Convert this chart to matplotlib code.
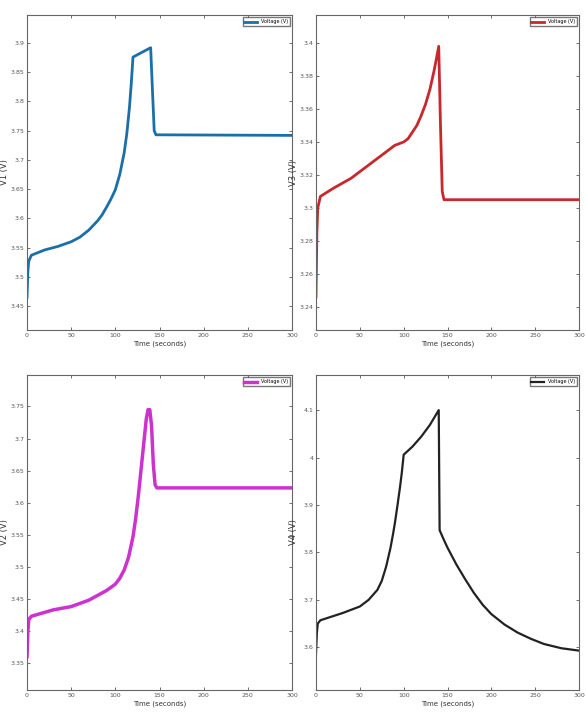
import numpy as np
import matplotlib.pyplot as plt

# V1
t1 = [0, 1, 2, 5, 20, 35, 50, 60, 70, 80, 85, 90, 95, 100, 105, 110, 113, 116, 118, 120, 140, 142, 144, 146, 300]
v1 = [3.465, 3.51, 3.527, 3.537, 3.546, 3.552, 3.560, 3.568, 3.580, 3.596, 3.606, 3.619, 3.633, 3.649, 3.675, 3.712,
      3.745, 3.79, 3.83, 3.876, 3.892, 3.82, 3.75, 3.743, 3.742]
# V3
t3 = [0, 1, 2, 5, 20, 40, 60, 80, 90, 100, 105, 110, 115, 120, 125, 130, 135, 140, 142, 144, 146, 300]
v3 = [3.246, 3.285, 3.300, 3.307, 3.312, 3.318, 3.326, 3.334, 3.338, 3.340, 3.342, 3.346, 3.350, 3.356, 3.363,
      3.372, 3.384, 3.398, 3.35, 3.31, 3.305, 3.305]
# V2
t2 = [0, 1, 2, 5, 30, 50, 70, 90, 100, 105, 110, 115, 120, 123, 126, 129, 132, 135, 137, 139, 141, 143, 145, 147, 300]
v2 = [3.36, 3.40, 3.418, 3.423, 3.433, 3.438, 3.448, 3.463, 3.473, 3.482, 3.495, 3.515, 3.547, 3.575, 3.61, 3.65,
      3.69, 3.73, 3.745, 3.745, 3.72, 3.66, 3.628, 3.623, 3.623]
# V4
t4 = [0, 1, 2, 5, 30, 50, 60, 70, 75, 80, 85, 88, 90, 93, 96, 98, 100, 110, 120, 130, 140, 141, 145, 150, 160,
      170, 180, 190, 200, 215, 230, 245, 260, 280, 300]
v4 = [3.587, 3.63, 3.65, 3.657, 3.672, 3.686, 3.700, 3.721, 3.740, 3.770, 3.810, 3.840, 3.862, 3.900, 3.940,
      3.970, 4.006, 4.023, 4.044, 4.069, 4.100, 3.847, 3.830, 3.810, 3.775, 3.744, 3.715, 3.690, 3.670, 3.648,
      3.631, 3.618, 3.607, 3.598, 3.593]

xticks = [0, 50, 100, 150, 200, 250, 300]

panels = [
    (t1, v1, '#1a6fa8', 2.0, 'V1 (V)', (3.409, 3.948), [3.45, 3.5, 3.55, 3.6, 3.65, 3.7, 3.75, 3.8, 3.85, 3.9]),
    (t3, v3, '#c8282c', 2.0, 'V3 (V)', (3.226, 3.417), [3.24, 3.26, 3.28, 3.3, 3.32, 3.34, 3.36, 3.38, 3.4]),
    (t2, v2, '#cc33cc', 2.5, 'V2 (V)', (3.308, 3.799), [3.35, 3.4, 3.45, 3.5, 3.55, 3.6, 3.65, 3.7, 3.75]),
    (t4, v4, '#222222', 1.6, 'V4 (V)', (3.51, 4.174), [3.6, 3.7, 3.8, 3.9, 4.0, 4.1]),
]

W, H = 586, 727
fig = plt.figure(figsize=(W / 100, H / 100), dpi=100)
boxes = [(27, 15, 292, 330), (316, 15, 579, 330), (27, 375, 292, 690), (316, 375, 579, 690)]

for (t, v, c, lw, yl, ylim, yt), (l, tp, r, b) in zip(panels, boxes):
    ax = fig.add_axes([l / W, 1 - b / H, (r - l) / W, (b - tp) / H])
    ax.plot(t, v, color=c, linewidth=lw, label='Voltage (V)')
    ax.set_xlim(0, 300)
    ax.set_ylim(*ylim)
    ax.set_xticks(xticks)
    ax.set_yticks(yt)
    ax.set_yticklabels([('%g' % y) for y in yt])
    ax.tick_params(direction='in', top=True, right=True, labelsize=4.5,
                   length=2.5, width=0.6, colors='#555555', pad=2)
    for s in ax.spines.values():
        s.set_color('#666666')
        s.set_linewidth(0.8)
    ax.set_xlabel('Time (seconds)', fontsize=5, color='#333333', labelpad=2)
    ax.set_ylabel(yl, fontsize=6, color='#333333')
    ax.yaxis.set_label_coords(-0.068, 0.5)
    ax.legend(loc='upper right', fontsize=3.5, handlelength=2.5, frameon=True,
              fancybox=False, edgecolor='#555555', borderpad=0.4)

fig.savefig('out.png', dpi=100)
